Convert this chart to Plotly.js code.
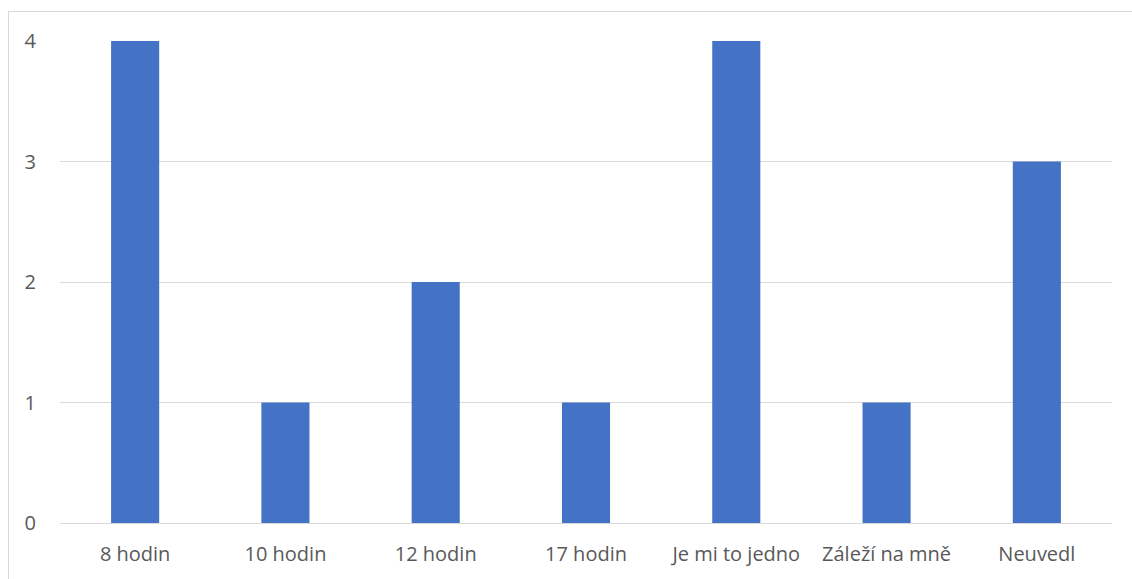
<!DOCTYPE html>
<html><head><meta charset="utf-8">
<script src="https://cdn.plot.ly/plotly-3.0.1.min.js"></script>
<style>
body{margin:0;background:#fff;overflow:hidden;}
#chart{position:absolute;left:8px;top:11px;width:1123px;height:580px;border:1px solid #d9d9d9;}
</style></head>
<body><div id="chart"></div>
<script>
const categories = ["8 hodin","10 hodin","12 hodin","17 hodin","Je mi to jedno","Záleží na mně","Neuvedl"];
const counts = [4,1,2,1,4,1,3];
const yTicks = [0,1,2,3,4];

const font = "Open Sans";
Plotly.newPlot('chart', [{
  type:'bar', x:categories, y:counts,
  marker:{color:'#4472c4'}, hoverinfo:'none'
}], {
  width:1123, height:580,
  margin:{l:51,r:20,t:29,b:69},
  bargap:0.68,
  paper_bgcolor:'#fff', plot_bgcolor:'#fff',
  font:{family:font,size:20,color:'#595959'},
  showlegend:false,
  xaxis:{showgrid:false, showline:true, linecolor:'#d9d9d9', linewidth:1, ticks:'', ticklabelstandoff:13, tickfont:{family:font,size:20,color:'#595959'}},
  yaxis:{range:[0,4], tickvals:yTicks, showgrid:true, gridcolor:'#d9d9d9', gridwidth:1, zeroline:false, showline:false, ticks:'', ticklabelstandoff:23, tickfont:{family:font,size:20,color:'#595959'}}
}, {displayModeBar:false, staticPlot:true});
</script></body></html>
